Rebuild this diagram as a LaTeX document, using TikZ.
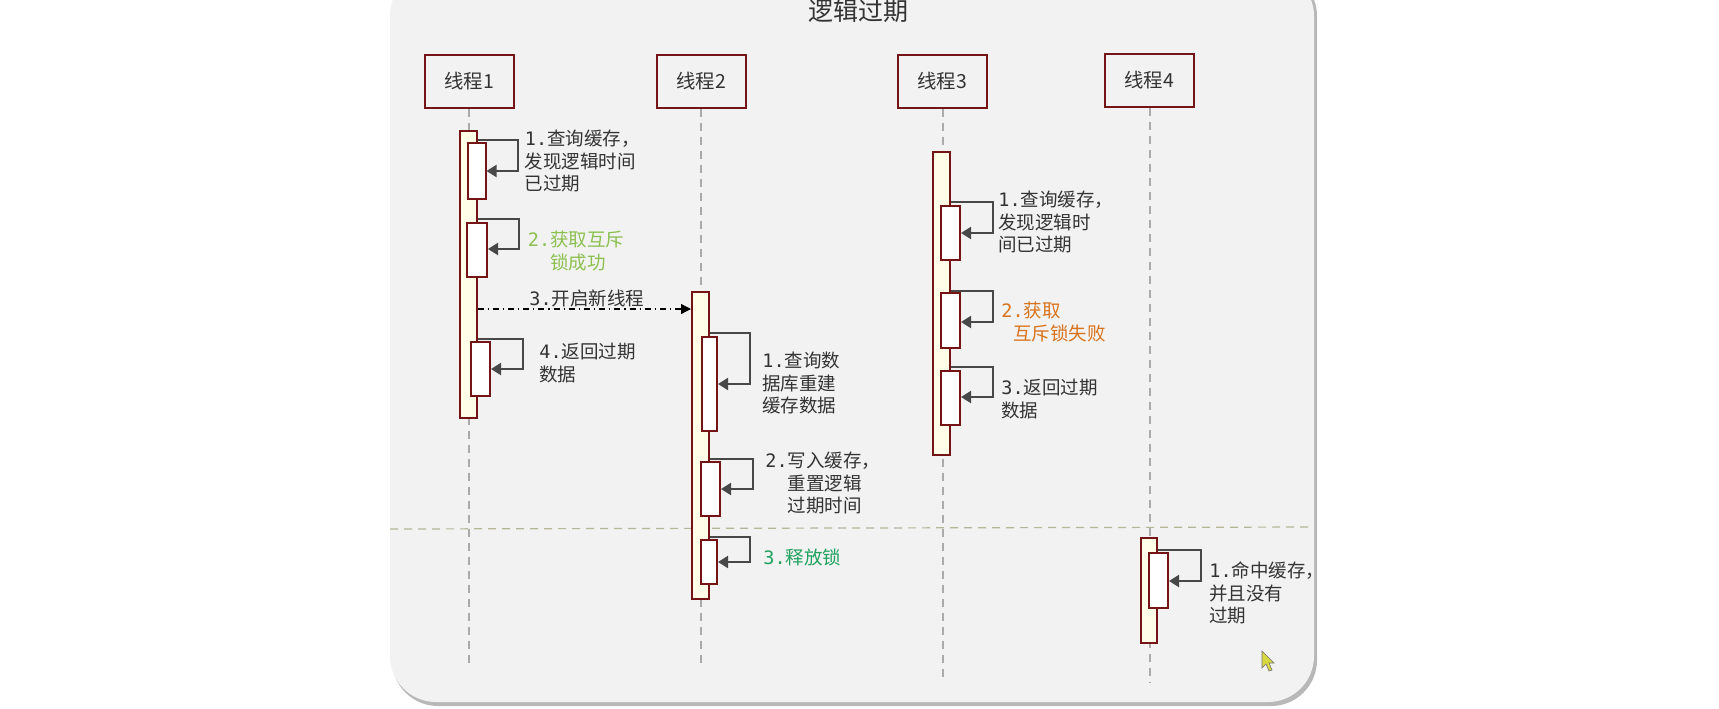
\documentclass[tikz,border=0pt]{standalone}
\usepackage{fontspec}
\setmainfont{Noto Sans CJK SC}
\newfontfamily\monofnt{DejaVu Sans Mono}
\usetikzlibrary{arrows.meta,fit,calc}
\definecolor{maroonc}{HTML}{741414}
\definecolor{panelc}{HTML}{F2F2F2}
\definecolor{barc}{HTML}{FFFDE8}
\definecolor{txtc}{HTML}{333333}
\definecolor{arrc}{HTML}{484848}
\definecolor{lifec}{HTML}{ABABAB}
\definecolor{sepc}{HTML}{B5B59A}
\definecolor{lgreen}{HTML}{8CC050}
\definecolor{tgreen}{HTML}{1FA25E}
\definecolor{orangec}{HTML}{D9731C}
\definecolor{cursorc}{HTML}{D8D840}
\newcommand\nm[1]{{\monofnt #1}}
\tikzset{
  head/.style={draw=maroonc, line width=1pt, fill=panelc, minimum width=44.5pt, minimum height=26.5pt, inner sep=0, text=txtc, font=\fontsize{9.7}{11}\selectfont},
  lifeline/.style={draw=lifec, line width=0.7pt, dash pattern=on 4pt off 3pt},
  actbar/.style={draw=maroonc, line width=1pt, fill=barc, inner sep=0},
  subbar/.style={draw=maroonc, line width=1pt, fill=white, inner sep=0},
  selfarr/.style={draw=arrc, line width=1pt, -{Triangle[length=5pt,width=6pt]}},
  msgarr/.style={draw=black, line width=0.6pt, dash pattern=on 3pt off 2pt on 0.6pt off 2pt, -{Triangle[length=5pt,width=5pt]}},
  lbl/.style={font=\fontsize{9.25}{11.2}\selectfont, align=left, anchor=west, inner sep=0, text=txtc},
  sepline/.style={draw=sepc, line width=0.6pt, dash pattern=on 4pt off 3pt},
}
\begin{document}
\begin{tikzpicture}[x=0.5pt,y=-0.5pt]
\useasboundingbox (0,0) rectangle (1719,708);
\fill[white] (0,0) rectangle (1719,708);
\clip (0,0) rectangle (1719,708);
% panel with shadow
\fill[black!28, rounded corners=23pt] (392,-30) rectangle (1317,706);
\fill[panelc, rounded corners=23pt] (390,-30) rectangle (1314,702);
% title
\node[font=\fontsize{12.5}{14}\selectfont, text=txtc] (title) at (858,11) {逻辑过期};
% heads
\node[head] (h1) at (469,81) {线程1};
\node[head] (h2) at (701,81) {线程2};
\node[head] (h3) at (942,81) {线程3};
\node[head] (h4) at (1149,80) {线程4};
% lifeline ends
\coordinate (e1) at (469,668);
\coordinate (e2) at (701,668);
\coordinate (e3) at (943,682);
\coordinate (e4) at (1150,682);
\draw[lifeline] (h1.south) -- (e1);
\draw[lifeline] (h2.south) -- (e2);
\draw[lifeline] (h3.south -| e3) -- (e3);
\draw[lifeline] (h4.south -| e4) -- (e4);
% separator
\coordinate (sepL) at (390,529);
\coordinate (sepR) at (1314,527);
\draw[sepline] (sepL) -- (sepR);
% activation bars
\node[actbar, fit={(459.5,131) (476.5,418)}] (b1) {};
\node[actbar, fit={(692,292) (709,599)}] (b2) {};
\node[actbar, fit={(933,152) (950,455)}] (b3) {};
\node[actbar, fit={(1141,538) (1157,643)}] (b4) {};
% thread 1
\node[subbar, fit={(467.5,143) (485.5,199)}] (s11) {};
\node[subbar, fit={(467,223) (487,277)}] (s12) {};
\node[subbar, fit={(471,342) (490,396)}] (s13) {};
\draw[selfarr] (b1.east |- 0,140) -- (518,140) |- (s11.east |- 0,171);
\draw[selfarr] (b1.east |- 0,219) -- (519,219) |- (s12.east |- 0,249);
\draw[selfarr] (478,339) -- (523,339) |- (s13.east |- 0,369);
\node[lbl] (l11) at (524.5,161) {\nm{1.}查询缓存，\\发现逻辑时间\\已过期};
\node[lbl, text=lgreen] (l12) at (527.5,251) {\nm{2.}获取互斥\\\hspace*{1.2em}锁成功};
\node[lbl] (l14) at (539,363) {\nm{4.}返回过期\\数据};
% message 3
\draw[msgarr] (b1.east |- 0,309) -- (b2.west |- 0,309);
\node[lbl] (l13) at (529,298) {\nm{3.}开启新线程};
% thread 2
\node[subbar, fit={(702,337) (717,431)}] (s21) {};
\node[subbar, fit={(701,462) (720,516)}] (s22) {};
\node[subbar, fit={(701,540) (717,584)}] (s23) {};
\draw[selfarr] (b2.east |- 0,333) -- (749.5,333) |- (s21.east |- 0,384);
\draw[selfarr] (b2.east |- 0,459) -- (753,459) |- (s22.east |- 0,489);
\draw[selfarr] (b2.east |- 0,537) -- (749.5,537) |- (s23.east |- 0,562);
\node[lbl] (l21) at (762,383) {\nm{1.}查询数\\据库重建\\缓存数据};
\node[lbl] (l22) at (765,483) {\nm{2.}写入缓存，\\\hspace*{1.2em}重置逻辑\\\hspace*{1.2em}过期时间};
\node[lbl, text=tgreen] (l23) at (763,557) {\nm{3.}释放锁};
% thread 3
\node[subbar, fit={(941,206) (960,260)}] (s31) {};
\node[subbar, fit={(941,293) (960,348)}] (s32) {};
\node[subbar, fit={(941,371) (960,425)}] (s33) {};
\draw[selfarr] (b3.east |- 0,202) -- (993,202) |- (s31.east |- 0,233);
\draw[selfarr] (b3.east |- 0,291) -- (993,291) |- (s32.east |- 0,322);
\draw[selfarr] (b3.east |- 0,367) -- (993,367) |- (s33.east |- 0,397);
\node[lbl] (l31) at (998,222) {\nm{1.}查询缓存，\\发现逻辑时\\间已过期};
\node[lbl, text=orangec] (l32) at (1001,322) {\nm{2.}获取\\\hspace*{0.63em}互斥锁失败};
\node[lbl] (l33) at (1001,399) {\nm{3.}返回过期\\数据};
% thread 4
\node[subbar, fit={(1149,553) (1168,608)}] (s41) {};
\draw[selfarr] (b4.east |- 0,550) -- (1201,550) |- (s41.east |- 0,581);
\node[lbl] (l41) at (1209,593) {\nm{1.}命中缓存，\\并且没有\\过期};
% mouse cursor
\filldraw[fill=cursorc, draw=black!55, line width=0.3pt] (1262,651) -- (1262,668) -- (1266,664) -- (1269,671) -- (1272,670) -- (1269,663) -- (1274,663) -- cycle;
\end{tikzpicture}
\end{document}
